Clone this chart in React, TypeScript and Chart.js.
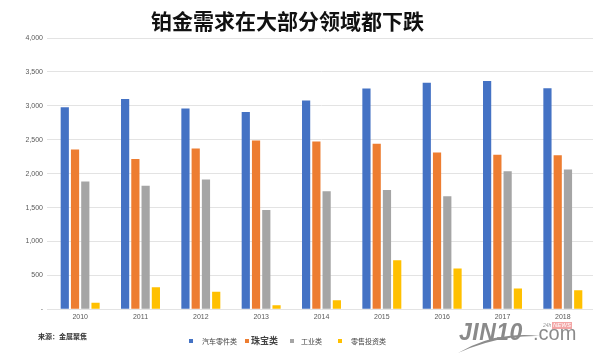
import React, { useEffect, useRef } from "react";
import { Chart, registerables } from "chart.js";

Chart.register(...registerables);

const years = ["2010", "2011", "2012", "2013", "2014", "2015", "2016", "2017", "2018"];
const autoParts = [2980, 3100, 2960, 2910, 3080, 3255, 3340, 3365, 3260];
const jewellery = [2355, 2215, 2370, 2490, 2475, 2440, 2310, 2280, 2270];
const industrial = [1885, 1820, 1915, 1465, 1740, 1760, 1665, 2035, 2060];
const retailInvest = [95, 325, 260, 60, 135, 725, 600, 305, 280];
const seriesNames = ["汽车零件类", "珠宝类", "工业类", "零售投资类"];
const seriesColors = ["#4472C4", "#ED7D31", "#A5A5A5", "#FFC000"];
const titleText = "铂金需求在大部分领域都下跌";
const sourceText = "来源：金属聚焦";

export default function App() {
  const ref = useRef<HTMLCanvasElement | null>(null);

  useEffect(() => {
    document.body.style.margin = "0";
    const canvas = ref.current;
    if (!canvas) return;
    const seriesData = [autoParts, jewellery, industrial, retailInvest];
    const chart = new Chart(canvas, {
      type: "bar",
      data: {
        labels: years,
        datasets: seriesNames.map((name, i) => ({
          label: name,
          data: seriesData[i],
          backgroundColor: seriesColors[i],
          borderWidth: 0,
          barPercentage: 0.8,
          categoryPercentage: 0.68,
        })),
      },
      options: {
        responsive: false,
        animation: false,
        devicePixelRatio: 1,
        layout: { padding: { top: 38, right: 7, left: 0, bottom: 0 } },
        plugins: {
          legend: { display: false },
          title: { display: false },
          tooltip: { enabled: false },
        },
        scales: {
          x: {
            grid: { display: false, drawTicks: false },
            border: { display: false },
            ticks: {
              padding: 4,
              color: "#595959",
              font: { size: 7, family: "Liberation Sans, Arial, sans-serif" },
            },
            afterFit: (scale: any) => {
              scale.height = 47.7;
            },
          },
          y: {
            min: 0,
            max: 4000,
            grid: { color: "#e3e3e3", lineWidth: 1, drawTicks: true, tickLength: 3 },
            border: { display: false },
            ticks: {
              stepSize: 500,
              padding: 4,
              color: "#595959",
              font: { size: 7, family: "Liberation Sans, Arial, sans-serif" },
              callback: (v: any) => (Number(v) === 0 ? "-" : Number(v).toLocaleString("en-US")),
            },
            afterFit: (scale: any) => {
              scale.width = 50;
            },
          },
        },
      },
    });
    return () => chart.destroy();
  }, []);

  const legendFont = "'Noto Sans CJK SC', sans-serif";

  return (
    <div style={{ position: "fixed", left: 0, top: 0, width: 600, height: 357, background: "#fff", overflow: "hidden" }}>
      <canvas ref={ref} width={600} height={357} style={{ position: "absolute", left: 0, top: 0 }} />
      <div
        style={{
          position: "absolute",
          left: 0,
          width: 575,
          top: 7,
          textAlign: "center",
          fontFamily: legendFont,
          fontWeight: 700,
          fontSize: 21,
          lineHeight: "26px",
          color: "#111",
        }}
      >
        {titleText}
      </div>
      <div
        style={{
          position: "absolute",
          left: 38,
          top: 331,
          fontFamily: legendFont,
          fontWeight: 700,
          fontSize: 7,
          lineHeight: "10px",
          color: "#333",
          whiteSpace: "nowrap",
        }}
      >
        {sourceText}
      </div>
      {seriesNames.map((name, i) => {
        const sqX = [189, 245, 290, 338][i];
        const txtX = [202, 251, 301, 351][i];
        const size = i === 1 ? 9 : 7;
        return (
          <React.Fragment key={name}>
            <div style={{ position: "absolute", left: sqX, top: 339, width: 4, height: 4, background: seriesColors[i] }} />
            <div
              style={{
                position: "absolute",
                left: txtX,
                top: 341 - size * 0.75,
                fontFamily: legendFont,
                fontSize: size,
                fontWeight: i === 1 ? 700 : 400,
                lineHeight: `${size * 1.5}px`,
                color: "#444",
                whiteSpace: "nowrap",
              }}
            >
              {name}
            </div>
          </React.Fragment>
        );
      })}
      <svg style={{ position: "absolute", left: 0, top: 0 }} width={600} height={357}>
        <path d="M458 353 Q 495 331 540 336 Q 498 335 458 353 Z" fill="#8c8c8c" />
      </svg>
      <div
        style={{
          position: "absolute",
          left: 459,
          top: 318,
          fontFamily: "'Liberation Sans', Arial, sans-serif",
          fontStyle: "italic",
          fontWeight: 700,
          fontSize: 23,
          lineHeight: "28px",
          letterSpacing: 0.5,
          color: "#8a8a8a",
        }}
      >
        JIN10
      </div>
      <div
        style={{
          position: "absolute",
          left: 533,
          top: 321,
          fontFamily: "'Liberation Sans', Arial, sans-serif",
          fontSize: 20,
          lineHeight: "24px",
          color: "#8a8a8a",
        }}
      >
        .com
      </div>
      <div
        style={{
          position: "absolute",
          left: 543,
          top: 322,
          fontFamily: "'Liberation Sans', Arial, sans-serif",
          fontStyle: "italic",
          fontSize: 5,
          lineHeight: "7px",
          color: "#999",
          background: "#fff",
        }}
      >
        24h
      </div>
      <div
        style={{
          position: "absolute",
          left: 552,
          top: 322,
          padding: "0 1px",
          background: "#f3a6a6",
          fontFamily: "'Liberation Sans', Arial, sans-serif",
          fontStyle: "italic",
          fontSize: 6,
          lineHeight: "7px",
          color: "#fff",
        }}
      >
        NEWS
      </div>
    </div>
  );
}
